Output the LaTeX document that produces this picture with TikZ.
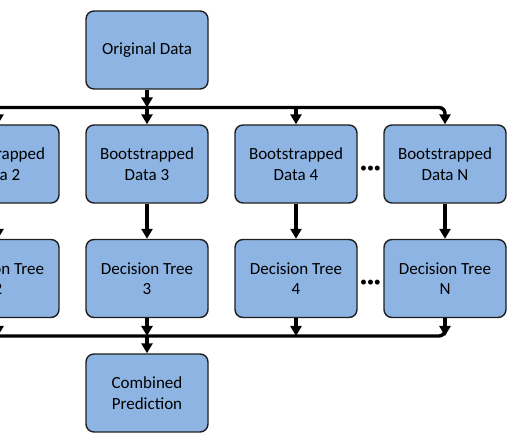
\documentclass[tikz,border=0pt]{standalone}
\usepackage{fontspec}
\setmainfont{Carlito}
\usepackage{tikz}
\usetikzlibrary{arrows.meta,positioning}
\usepackage{xcolor}
\definecolor{boxblue}{HTML}{8DB4E2}
\definecolor{boxedge}{HTML}{1E1E1E}

\begin{document}
\begin{tikzpicture}[x=1pt, y=1pt, >={Triangle[width=11pt,length=10pt]},
  box/.style={rectangle, rounded corners=8pt, draw=boxedge, line width=1.4pt, fill=boxblue, minimum width=122pt, minimum height=78pt, align=center, inner sep=2pt, font=\fontsize{17}{20.5}\selectfont},
  flow/.style={->, line width=3.4pt, black},
  bus/.style={line width=3.4pt, black, rounded corners=6pt},
  gap/.style={font=\fontsize{14}{16}\selectfont, inner sep=0pt}]
  \useasboundingbox (0,0) rectangle (530,443);
  % source and result
  \node[box] (orig) at (147, 393) {Original Data};
  \node[box] (comb) at (147, 50) {Combined\\Prediction};
  % bootstrapped samples
  \node[box] (b2) at (-2, 279) {Bootstrapped\\Data 2};
  \node[box] (b3) at (147, 279) {Bootstrapped\\Data 3};
  \node[box] (b4) at (296, 279) {Bootstrapped\\Data 4};
  \node[box] (bN) at (445, 279) {Bootstrapped\\Data N};
  % trees
  \node[box] (t2) at (-2, 164.5) {Decision Tree\\2};
  \node[box] (t3) at (147, 164.5) {Decision Tree\\3};
  \node[box] (t4) at (296, 164.5) {Decision Tree\\4};
  \node[box] (tN) at (445, 164.5) {Decision Tree\\N};
  \node[gap] (dotsB) at (370.5, 274) {•••};
  \node[gap] (dotsT) at (370.5, 160) {•••};
  % buses
  \coordinate (topL) at (-30, 335.5);
  \coordinate (topR) at (445, 335.5);
  \coordinate (botL) at (-30, 107);
  \coordinate (botR) at (445, 107);
  \draw[flow] (orig) -- (orig.south |- topL);
  \draw[flow, rounded corners=6pt] (topL) -- (topR) -- (bN);
  \draw[flow] (b2.north |- topL) -- (b2);
  \draw[flow] (b3.north |- topL) -- (b3);
  \draw[flow] (b4.north |- topL) -- (b4);
  \draw[flow] (b2) -- (t2);
  \draw[flow] (b3) -- (t3);
  \draw[flow] (b4) -- (t4);
  \draw[flow] (bN) -- (tN);
  \draw[bus] (botL) -- (botR) -- ++(0, 8);
  \draw[flow] (t2) -- (t2.south |- botL);
  \draw[flow] (t3) -- (t3.south |- botL);
  \draw[flow] (t4) -- (t4.south |- botL);
  \draw[flow] (tN) -- (botR);
  \draw[flow] (t3.south |- botL) -- (comb);
\end{tikzpicture}
\end{document}
